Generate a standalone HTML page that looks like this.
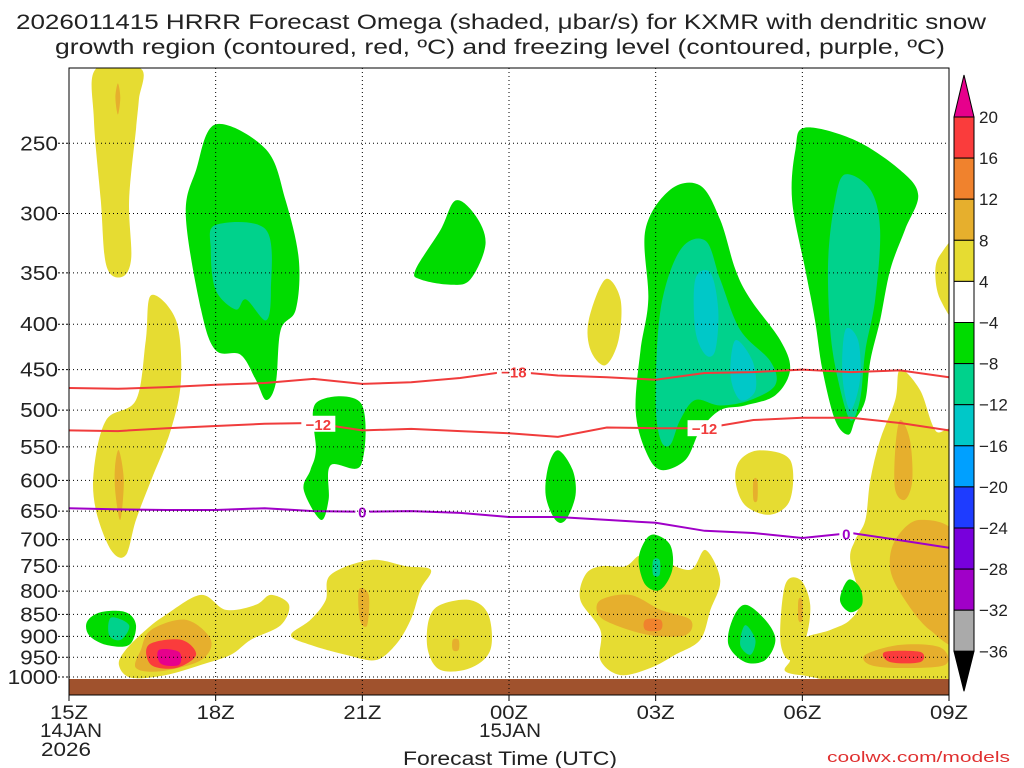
<!DOCTYPE html>
<html><head><meta charset="utf-8"><style>
html,body{margin:0;padding:0;background:#fff;}
svg{display:block;font-family:"Liberation Sans",sans-serif;}
</style></head><body>
<svg id="chart" width="1024" height="768" viewBox="0 0 1024 768" xmlns="http://www.w3.org/2000/svg">
<text x="501" y="29" font-size="21" text-anchor="middle" fill="#222" textLength="970" lengthAdjust="spacingAndGlyphs">2026011415 HRRR Forecast Omega (shaded, μbar/s) for KXMR with dendritic snow</text>
<text x="500" y="54" font-size="21" text-anchor="middle" fill="#222" textLength="890" lengthAdjust="spacingAndGlyphs">growth region (contoured, red, ºC) and freezing level (contoured, purple, ºC)</text>
<g id="plot"></g>
<g id="cbar"></g>
<text x="510" y="765" font-size="19" fill="#222" text-anchor="middle" textLength="214" lengthAdjust="spacingAndGlyphs">Forecast Time (UTC)</text>
<text x="1010" y="762" font-size="15" fill="#e03030" text-anchor="end" textLength="183" lengthAdjust="spacingAndGlyphs">coolwx.com/models</text>
</svg>
<script>
// ---- data ----
const pressureTicks=[250,300,350,400,450,500,550,600,650,700,750,800,850,900,950,1000];
const hourTicks=[0,3,6,9,12,15,18];
const hourTickLabels=["15Z","18Z","21Z","00Z","03Z","06Z","09Z"];
const hours=[0,1,2,3,4,5,6,7,8,9,10,11,12,13,14,15,16,17,18];
const isoMinus18=[472,473,471,468,466,461,467,465,460,452,457,459,462,454,453,450,453,451,459];
const isoMinus12=[527,528,524,521,518,517,527,525,528,531,536,523,524,524,513,510,510,517,527];
const isoZero=[645,647,648,648,645,650,651,650,653,660,660,665,670,684,688,697,688,701,715];
const cbarLevels=["20","16","12","8","4","−4","−8","−12","−16","−20","−24","−28","−32","−36"];
const cbarColors=["#fa3c3c","#f0822d","#e6af2d","#e6dc32","#ffffff","#00dc00","#00d28c","#00c8c8","#00a0ff","#1e3cff","#7800dc","#a000c8","#aaaaaa"];
// shaded omega regions: [band, [[hour, hPa],...]]
const omegaRegions=[
["y",[[0.55,206],[1.47,206],[1.43,223],[1.37,241],[1.23,290],[1.27,338],[1.06,354],[0.76,343],[0.65,290],[0.51,235]]],
["o",[[1.0,214],[1.05,222],[1.0,232],[0.95,222]]],
["y",[[1.68,371],[2.19,396],[2.29,462],[2.08,527],[1.68,600],[1.37,665],[1.16,729],[0.86,719],[0.55,648],[0.51,584],[0.76,513],[1.37,487],[1.57,417]]],
["o",[[1.02,555],[1.12,600],[1.05,665],[0.95,620],[0.94,580]]],
["g",[[3.0,238],[4.03,254],[4.43,290],[4.7,338],[4.64,385],[4.33,406],[4.23,466],[4.03,487],[3.82,462],[3.51,433],[3.0,428],[2.7,385],[2.39,302],[2.6,268]]],
["t",[[3.0,309],[4.03,313],[4.13,366],[4.03,396],[3.62,375],[3.41,385],[3.0,366],[2.9,330]]],
["g",[[7.91,290],[8.32,302],[8.52,325],[8.21,356],[7.81,361],[7.19,356],[7.09,347],[7.6,313]]],
["g",[[5.05,491],[5.97,491],[5.97,577],[5.35,577],[5.31,631],[5.15,665],[4.8,615],[4.94,584],[5.05,555]]],
["g",[[10.01,555],[10.3,584],[10.36,624],[10.16,665],[9.95,665],[9.75,624],[9.81,577]]],
["y",[[10.97,356],[11.28,375],[11.24,417],[10.97,445],[10.67,428],[10.63,396]]],
["g",[[11.79,313],[12.3,282],[12.91,279],[13.32,305],[13.63,347],[13.94,375],[14.55,417],[14.75,450],[14.45,481],[13.83,494],[13.32,500],[12.91,527],[12.61,569],[12.1,584],[11.79,555],[11.59,500],[11.69,428],[11.85,375]]],
["t",[[12.1,385],[12.5,330],[13.02,322],[13.32,356],[13.73,406],[14.34,440],[14.45,468],[13.94,487],[13.32,494],[12.81,487],[12.5,513],[12.3,547],[12.1,540],[12.0,487]]],
["c",[[12.81,356],[13.12,350],[13.28,385],[13.22,428],[13.02,433],[12.81,406]]],
["c",[[13.63,417],[13.98,440],[14.04,475],[13.73,487],[13.53,457]]],
["g",[[15.06,240],[16.08,248],[17.0,268],[17.37,286],[17.1,313],[16.8,347],[16.59,396],[16.39,440],[16.29,487],[16.08,513],[15.94,533],[15.67,513],[15.41,450],[15.26,396],[15.06,347],[14.79,290],[14.86,254]]],
["t",[[15.88,271],[16.39,282],[16.59,313],[16.49,375],[16.29,428],[16.18,487],[15.98,513],[15.73,462],[15.57,406],[15.53,338],[15.67,290]]],
["c",[[15.88,406],[16.14,417],[16.18,462],[15.98,500],[15.82,457]]],
["y",[[18.2,322],[18.2,396],[17.82,375],[17.72,350],[17.82,334]]],
["y",[[17.0,450],[17.41,475],[17.72,527],[18.2,555],[18.2,1000],[14.96,995],[14.75,957],[14.96,908],[15.57,885],[15.98,862],[16.18,819],[15.98,738],[16.08,701],[16.29,665],[16.39,600],[16.59,540],[16.9,487]]],
["y",[[14.65,787],[14.96,777],[15.16,829],[15.06,908],[14.75,957],[14.55,908]]],
["o",[[14.92,819],[15.0,819],[15.0,862],[14.92,862]]],
["o",[[17.0,513],[17.2,540],[17.25,600],[17.1,631],[16.9,615],[16.9,555]]],
["o",[[16.9,701],[17.41,665],[18.2,701],[18.2,908],[17.61,885],[17.1,819],[16.8,757]]],
["o",[[16.29,944],[17.0,920],[17.82,926],[17.92,969],[17.0,977],[16.39,969]]],
["r",[[16.69,937],[17.41,937],[17.41,962],[16.8,962]]],
["g",[[15.94,777],[16.18,793],[16.22,829],[15.98,845],[15.77,819]]],
["g",[[13.83,829],[14.24,862],[14.45,908],[14.24,957],[13.83,962],[13.49,920],[13.57,862]]],
["t",[[13.83,874],[14.04,908],[13.94,944],[13.73,920]]],
["y",[[14.14,555],[14.75,569],[14.75,631],[14.34,656],[13.83,640],[13.63,600],[13.73,569]]],
["o",[[14.0,600],[14.08,600],[14.08,631],[14.0,631]]],
["y",[[10.87,750],[11.38,750],[11.69,729],[12.1,738],[12.71,757],[13.02,719],[13.32,777],[13.12,840],[12.91,908],[12.4,944],[11.89,977],[11.28,995],[10.87,957],[10.87,885],[10.46,819],[10.56,767]]],
["o",[[10.87,819],[11.48,808],[12.1,840],[12.71,862],[12.61,897],[11.89,897],[11.18,874],[10.83,851]]],
["d",[[11.79,862],[12.1,862],[12.1,885],[11.79,885]]],
["g",[[11.99,691],[12.3,710],[12.34,757],[12.1,797],[11.79,787],[11.65,738],[11.79,701]]],
["t",[[11.95,738],[12.08,738],[12.08,767],[11.95,767]]],
["y",[[7.6,829],[8.21,819],[8.58,851],[8.62,932],[8.21,977],[7.6,982],[7.34,932],[7.36,862]]],
["o",[[7.85,908],[7.97,908],[7.97,932],[7.85,932]]],
["y",[[5.35,767],[6.17,738],[6.89,750],[7.4,757],[7.19,797],[6.99,862],[6.68,920],[6.27,957],[5.66,944],[4.94,920],[4.54,897],[4.94,862],[5.25,819]]],
["o",[[5.93,797],[6.13,808],[6.1,874],[5.95,862]]],
["y",[[1.98,851],[2.7,808],[3.21,840],[3.82,829],[4.13,808],[4.5,829],[4.33,874],[3.72,908],[3.31,944],[2.7,969],[1.98,995],[1.27,1002],[1.02,969],[1.16,932],[1.57,885]]],
["o",[[1.68,885],[2.39,862],[2.9,908],[2.7,957],[1.88,985],[1.37,977],[1.47,932]]],
["r",[[1.63,920],[2.29,908],[2.6,944],[2.19,977],[1.68,969]]],
["m",[[1.84,932],[2.25,937],[2.25,969],[1.88,966]]],
["g",[[0.65,845],[1.16,845],[1.37,874],[1.23,920],[0.76,920],[0.41,897],[0.37,866]]],
["t",[[0.86,857],[1.23,874],[1.06,908],[0.82,897]]]
];
const bandColors={y:"#e6dc32",o:"#e6af2d",d:"#f0822d",r:"#fa3c3c",m:"#e6008c",g:"#00dc00",t:"#00d28c",c:"#00c8c8"};
const bandNames={y:"omega-4-8",o:"omega-8-12",d:"omega-12-16",r:"omega-16-20",m:"omega-over-20",g:"omega-minus-4-8",t:"omega-minus-8-12",c:"omega-minus-12-16"};

// ---- axes ----
const X0=69,X1=949,Y0=68,Y1=695;
const xS=h=>X0+h*(X1-X0)/18;
const yS=p=>677-385*Math.log(1000/p);
const NS="http://www.w3.org/2000/svg";
function mk(tag,attrs,parent){const e=document.createElementNS(NS,tag);for(const k in attrs)e.setAttribute(k,attrs[k]);parent.appendChild(e);return e;}
const svgEl=document.getElementById('chart');
const plotEl=document.getElementById('plot');
const defsEl=mk('defs',{},svgEl);
const cpEl=mk('clipPath',{id:'clip'},defsEl);
mk('rect',{x:X0,y:Y0,width:X1-X0,height:Y1-Y0},cpEl);
const gEl=mk('g',{'clip-path':'url(#clip)'},plotEl);

function smoothPath(pts){
  const n=pts.length;let d=`M${pts[0][0]},${pts[0][1]}`;
  for(let i=0;i<n;i++){
    const p0=pts[(i-1+n)%n],p1=pts[i],p2=pts[(i+1)%n],p3=pts[(i+2)%n];
    const c1=[p1[0]+(p2[0]-p0[0])/6,p1[1]+(p2[1]-p0[1])/6];
    const c2=[p2[0]-(p3[0]-p1[0])/6,p2[1]-(p3[1]-p1[1])/6];
    d+=` C${c1[0].toFixed(1)},${c1[1].toFixed(1)} ${c2[0].toFixed(1)},${c2[1].toFixed(1)} ${p2[0].toFixed(1)},${p2[1].toFixed(1)}`;
  }
  return d+'Z';
}
omegaRegions.forEach(r=>{
  const pts=r[1].map(q=>[xS(q[0]),yS(q[1])]);
  const e=mk('path',{d:smoothPath(pts),fill:bandColors[r[0]]},gEl);
  
  
});
// ground
const groundEl=mk('rect',{x:X0,y:679,width:X1-X0,height:Y1-679,fill:"#a0522d"},gEl);


// grid
pressureTicks.forEach((p,i)=>{
  const y=yS(p);
  const l=mk('line',{x1:X0,x2:X1,y1:y,y2:y,stroke:"#000","stroke-width":1,"stroke-dasharray":"1,3"},plotEl);
  
  
  mk('line',{x1:58,x2:X0,y1:y,y2:y,stroke:"#000","stroke-dasharray":"2,2"},plotEl);
  const s=String(p);
  const t=mk('text',{x:58,y:y+7,"font-size":20,"text-anchor":"end",fill:"#222",textLength:s.length*12.6,lengthAdjust:"spacingAndGlyphs"},plotEl);
  t.textContent=s;
  
  
});
hourTicks.forEach((h,i)=>{
  const x=xS(h);
  if(i>0&&i<hourTicks.length-1){
    const l=mk('line',{x1:x,x2:x,y1:Y0,y2:Y1,stroke:"#000","stroke-width":1,"stroke-dasharray":"1,3"},plotEl);
    
    
  }
  mk('line',{x1:x,x2:x,y1:Y1,y2:Y1+6,stroke:"#000"},plotEl);
  const t=mk('text',{x:x,y:719,"font-size":19,"text-anchor":"middle",fill:"#222",textLength:38,lengthAdjust:"spacingAndGlyphs"},plotEl);
  t.textContent=hourTickLabels[i];
  
  
});
[["14JAN",xS(0)+2,737,62],["2026",xS(0)-3,756,50],["15JAN",xS(9)+1,737,62]].forEach(a=>{
  const t=mk('text',{x:a[1],y:a[2],"font-size":19,"text-anchor":"middle",fill:"#222",textLength:a[3],lengthAdjust:"spacingAndGlyphs"},plotEl);
  t.textContent=a[0];
  
  
});
// isotherms
function iso(vals,color,name,labels,labelText){
  const d=hours.map((h,i)=>(i?'L':'M')+xS(h).toFixed(1)+','+yS(vals[i]).toFixed(1)).join(' ');
  const l=mk('path',{d:d,fill:"none",stroke:color,"stroke-width":2},gEl);
  
  
  labels.forEach(h=>{
    const i=Math.floor(h),f=h-i;
    const p=vals[i]+(vals[Math.min(i+1,18)]-vals[i])*f;
    const x=xS(h),y=yS(p);
    const w=labelText.length*10+4;
    mk('rect',{x:x-w/2,y:y-8,width:w,height:16,fill:"#fff"},gEl);
    const t=mk('text',{x:x,y:y+6,"font-size":15,"font-weight":"bold","text-anchor":"middle",fill:color},gEl);
    t.textContent=labelText;
    
    
  });
}
iso(isoMinus18,"#f03c3c","isotherm-minus-18",[9.1],"−18");
iso(isoMinus12,"#f03c3c","isotherm-minus-12",[5.1,13.0],"−12");
iso(isoZero,"#a000c8","freezing-level-0",[6.0,15.9],"0");
// frame
const frameEl=mk('rect',{x:X0,y:Y0,width:X1-X0,height:Y1-Y0,fill:"none",stroke:"#000","stroke-width":1},plotEl);


// colorbar
const cbEl=document.getElementById('cbar');
const CX=954,CW=20,CT=117,CS=41.1;
const cbTopArrow=mk('path',{d:`M${CX},${CT} L${CX+CW/2},${CT-42} L${CX+CW},${CT} Z`,fill:"#e6008c",stroke:"#000"},cbEl);


cbarColors.forEach((c,i)=>{
  const r=mk('rect',{x:CX,y:CT+i*CS,width:CW,height:CS,fill:c,stroke:"#000"},cbEl);
  
  
});
const cbBottomY=cbarColors.length*CS+CT;
const cbBottomArrow=mk('path',{d:`M${CX},${cbBottomY} L${CX+CW/2},${cbBottomY+40} L${CX+CW},${cbBottomY} Z`,fill:"#000",stroke:"#000"},cbEl);


cbarLevels.forEach((s,i)=>{
  const t=mk('text',{x:979,y:CT+i*CS+6,"font-size":17,fill:"#222"},cbEl);
  t.textContent=s;
  
  
});
</script>
</body></html>
